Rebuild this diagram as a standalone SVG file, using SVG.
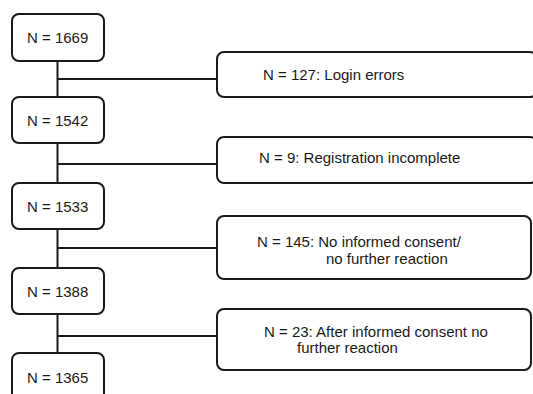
<svg xmlns="http://www.w3.org/2000/svg" width="533" height="394" viewBox="0 0 533 394">
<style>
.box{fill:#fff;stroke:#1a1a1a;stroke-width:2}
.ln{stroke:#1a1a1a;stroke-width:2;fill:none}
text{font-family:"Liberation Sans",Arial,sans-serif;font-size:15px;fill:#1a1a1a}
</style>
<rect width="533" height="394" fill="#fff"/>
<g id="connectors">
<path class="ln" d="M57.5 61V97M57.5 79H217"/>
<path class="ln" d="M57.5 143V183M57.5 164H217"/>
<path class="ln" d="M57.5 229V268M57.5 248H217"/>
<path class="ln" d="M57.5 314V353M57.5 336H217"/>
</g>
<g id="n1669"><rect class="box" x="12" y="14" width="92" height="47" rx="7"/><text x="27" y="43">N = 1669</text></g>
<g id="n1542"><rect class="box" x="12" y="97" width="92" height="46" rx="7"/><text x="27" y="126">N = 1542</text></g>
<g id="n1533"><rect class="box" x="12" y="183" width="92" height="46" rx="7"/><text x="27" y="212">N = 1533</text></g>
<g id="n1388"><rect class="box" x="12" y="268" width="92" height="46" rx="7"/><text x="27" y="297">N = 1388</text></g>
<g id="n1365"><rect class="box" x="12" y="353" width="92" height="50" rx="7"/><text x="27" y="383">N = 1365</text></g>
<g id="e127"><rect class="box" x="217" y="52" width="320" height="45" rx="7"/><text x="263" y="80">N = 127: Login errors</text></g>
<g id="e9"><rect class="box" x="217" y="137" width="320" height="46" rx="7"/><text x="259" y="163">N = 9: Registration incomplete</text></g>
<g id="e145"><rect class="box" x="217" y="216" width="314" height="63" rx="7"/><text x="257" y="247">N = 145: No informed consent/</text><text x="326" y="264">no further reaction</text></g>
<g id="e23"><rect class="box" x="217" y="309" width="314" height="61" rx="7"/><text x="264" y="337">N = 23: After informed consent no</text><text x="297" y="353">further reaction</text></g>
</svg>
